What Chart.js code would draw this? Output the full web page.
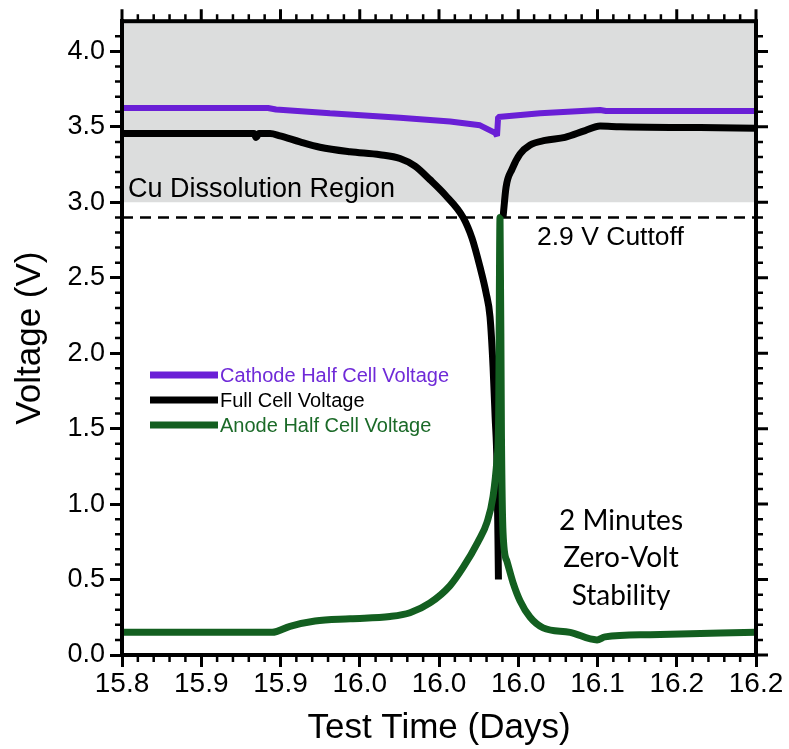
<!DOCTYPE html>
<html>
<head>
<meta charset="utf-8">
<script src="https://cdn.jsdelivr.net/npm/chart.js"></script>
<style>
  html, body { margin: 0; padding: 0; background: #fff; }
</style>
</head>
<body>
<canvas id="voltageChart" width="789" height="749"></canvas>
<script>
// axis ticks
const xTickValues = [15.8, 15.85, 15.9, 15.95, 16.0, 16.05, 16.1, 16.15, 16.2];
const xTickLabels = ['15.8', '15.9', '15.9', '16.0', '16.0', '16.0', '16.1', '16.2', '16.2'];
const yTickValues = [0, 0.5, 1.0, 1.5, 2.0, 2.5, 3.0, 3.5, 4.0];
const yTickLabels = ['0.0', '0.5', '1.0', '1.5', '2.0', '2.5', '3.0', '3.5', '4.0'];

// cathode half cell
const cathodeTime = [15.8, 15.8921, 15.8972, 15.9312, 15.9754, 16.007, 16.0259, 16.0354, 16.0366,
  16.0373, 16.0638, 16.1016, 16.1054, 16.1521, 16.2];
const cathodeV = [3.625, 3.625, 3.615, 3.59, 3.56, 3.535, 3.51, 3.46, 3.44,
  3.565, 3.59, 3.612, 3.605, 3.605, 3.605];

// full cell (null = break where the cell is held at zero volts)
const fullTime = [15.8, 15.8833, 15.8846, 15.8864, 15.8934, 15.8997, 15.9123, 15.9249, 15.9439,
  15.9628, 15.9754, 15.9849, 15.9943, 16.0038, 16.0152, 16.0209, 16.0259, 16.0297, 16.0322,
  16.0341, 16.0354, 16.0366, 16.0375, 16.039, 16.0404, 16.0423, 16.0461, 16.0511, 16.0575,
  16.0669, 16.0795, 16.0922, 16.1016, 16.1142, 16.1647, 16.2];
const fullV = [3.455, 3.455, 3.43, 3.455, 3.455, 3.44, 3.40, 3.365, 3.335,
  3.315, 3.29, 3.24, 3.15, 3.05, 2.90, 2.76, 2.57, 2.40, 2.24,
  1.91, 1.58, 1.25, 0.50, null, 2.90, 3.10, 3.22, 3.32, 3.38,
  3.41, 3.43, 3.475, 3.505, 3.50, 3.495, 3.49];

// anode half cell
const anodeTime = [15.8, 15.8947, 15.906, 15.9218, 15.9439, 15.9691, 15.9817, 15.9943, 16.007,
  16.0152, 16.0246, 16.0303, 16.0341, 16.0366, 16.0376, 16.0385, 16.0394, 16.0404, 16.0429,
  16.0467, 16.0511, 16.0575, 16.0657, 16.0827, 16.0997, 16.1048, 16.1332, 16.2];
const anodeV = [0.15, 0.15, 0.19, 0.225, 0.24, 0.255, 0.28, 0.345, 0.46,
  0.58, 0.75, 0.88, 1.05, 1.30, 1.55, 2.90, 1.45, 0.81, 0.62,
  0.48, 0.36, 0.25, 0.18, 0.15, 0.10, 0.12, 0.135, 0.15];

// 2.9 V cutoff and Cu dissolution band
const cutoffTime = [15.8, 16.2];
const cutoffV = [2.9, 2.9];
const regionTime = [15.8, 16.2];
const regionTop = [4.2, 4.2];
const regionFloor = 3.0;

const pts = (xs, ys) => xs.map((x, i) => ({ x: x, y: ys[i] }));

const PURPLE = '#6a1fd6';
const GREEN = '#135f20';

const axisExtras = {
  id: 'axisExtras',
  afterDraw(chart) {
    const { ctx, chartArea: a, scales: { x, y } } = chart;
    const seg = (x1, y1, x2, y2) => { ctx.moveTo(x1, y1); ctx.lineTo(x2, y2); };
    ctx.save();
    ctx.strokeStyle = '#000';
    ctx.lineWidth = 4;
    ctx.strokeRect(a.left, a.top, a.right - a.left, a.bottom - a.top);

    // major ticks on top and right
    ctx.lineWidth = 3;
    ctx.beginPath();
    xTickValues.forEach(v => { const px = x.getPixelForValue(v); seg(px, a.top, px, a.top - 12); });
    yTickValues.forEach(v => { const py = y.getPixelForValue(v); seg(a.right, py, a.right + 12, py); });
    ctx.stroke();

    // minor ticks, all four sides
    ctx.lineWidth = 2.5;
    ctx.beginPath();
    for (let i = 1; i < 40; i++) {
      if (i % 5 === 0) continue;
      const px = x.getPixelForValue(15.8 + i * 0.01);
      seg(px, a.bottom, px, a.bottom + 7);
      seg(px, a.top, px, a.top - 7);
    }
    for (let i = 1; i <= 41; i++) {
      if (i % 5 === 0) continue;
      const py = y.getPixelForValue(i * 0.1);
      seg(a.left, py, a.left - 7, py);
      seg(a.right, py, a.right + 7, py);
    }
    ctx.stroke();

    // annotations
    ctx.fillStyle = '#000';
    ctx.textBaseline = 'alphabetic';
    ctx.textAlign = 'left';
    ctx.font = '27px "Liberation Sans", Arial, sans-serif';
    ctx.fillText('Cu Dissolution Region', a.left + 6, 197);
    ctx.font = '26.5px "Liberation Sans", Arial, sans-serif';
    ctx.fillText('2.9 V Cuttoff', 537, 245);

    ctx.textAlign = 'center';
    ctx.font = '28px Lato, "Open Sans", sans-serif';
    ctx.fillText('2 Minutes', 621, 530);
    ctx.fillText('Zero-Volt', 621, 567);
    ctx.fillText('Stability', 621, 605);

    // legend
    const items = [
      ['Cathode Half Cell Voltage', PURPLE, '#6f2ad8', 375],
      ['Full Cell Voltage', '#000', '#000', 400],
      ['Anode Half Cell Voltage', GREEN, '#1b6a28', 425]
    ];
    ctx.textAlign = 'left';
    ctx.textBaseline = 'middle';
    ctx.font = '20px "Liberation Sans", Arial, sans-serif';
    items.forEach(([label, lineColor, textColor, ly]) => {
      ctx.strokeStyle = lineColor;
      ctx.lineWidth = 7;
      ctx.beginPath();
      seg(150, ly, 218, ly);
      ctx.stroke();
      ctx.fillStyle = textColor;
      ctx.fillText(label, 220, ly + 1);
    });
    ctx.restore();
  }
};

const ctx = document.getElementById('voltageChart').getContext('2d');
new Chart(ctx, {
  type: 'line',
  data: {
    datasets: [
      {
        label: 'Anode Half Cell Voltage',
        data: pts(anodeTime, anodeV),
        borderColor: GREEN,
        borderWidth: 7,
        borderJoinStyle: 'bevel',
        cubicInterpolationMode: 'monotone',
        order: 0
      },
      {
        label: 'Cathode Half Cell Voltage',
        data: pts(cathodeTime, cathodeV),
        borderColor: PURPLE,
        borderWidth: 6,
        borderJoinStyle: 'bevel',
        order: 1
      },
      {
        label: 'Full Cell Voltage',
        data: pts(fullTime, fullV),
        borderColor: '#000',
        borderWidth: 7,
        borderJoinStyle: 'bevel',
        cubicInterpolationMode: 'monotone',
        order: 2
      },
      {
        label: '2.9 V Cuttoff',
        data: pts(cutoffTime, cutoffV),
        borderColor: '#000',
        borderWidth: 2.5,
        borderDash: [11, 7],
        order: 3
      },
      {
        label: 'Cu Dissolution Region',
        data: pts(regionTime, regionTop),
        borderWidth: 0,
        backgroundColor: '#dcdddd',
        fill: { value: regionFloor },
        order: 4
      }
    ]
  },
  options: {
    responsive: false,
    animation: false,
    events: [],
    layout: { padding: { left: 0, right: 33, top: 21, bottom: 0 } },
    elements: { point: { radius: 0 }, line: { tension: 0 } },
    scales: {
      x: {
        type: 'linear',
        min: 15.8,
        max: 16.2,
        afterBuildTicks: s => { s.ticks = xTickValues.map(v => ({ value: v })); },
        afterFit: s => { s.height = 94; },
        ticks: {
          autoSkip: false,
          maxRotation: 0,
          padding: 0,
          color: '#000',
          font: { family: '"Liberation Sans", Arial, sans-serif', size: 28 },
          callback: (v, i) => xTickLabels[i]
        },
        grid: { drawOnChartArea: false, tickLength: 12, tickWidth: 3, tickColor: '#000' },
        border: { color: '#000', width: 4 },
        title: {
          display: true,
          text: 'Test Time (Days)',
          color: '#000',
          font: { family: '"Liberation Sans", Arial, sans-serif', size: 35 },
          padding: { top: 0, bottom: 0 }
        }
      },
      y: {
        min: 0,
        max: 4.2,
        afterBuildTicks: s => { s.ticks = yTickValues.map(v => ({ value: v })); },
        afterFit: s => { s.width = 122; },
        ticks: {
          padding: 5,
          color: '#000',
          font: { family: '"Liberation Sans", Arial, sans-serif', size: 27 },
          callback: (v, i) => yTickLabels[i]
        },
        grid: { drawOnChartArea: false, tickLength: 12, tickWidth: 3, tickColor: '#000' },
        border: { color: '#000', width: 4 },
        title: {
          display: true,
          text: 'Voltage (V)',
          color: '#000',
          font: { family: '"Liberation Sans", Arial, sans-serif', size: 35 },
          padding: { top: 9, bottom: 0 }
        }
      }
    },
    plugins: {
      legend: { display: false },
      tooltip: { enabled: false }
    }
  },
  plugins: [axisExtras]
});
</script>
</body>
</html>
